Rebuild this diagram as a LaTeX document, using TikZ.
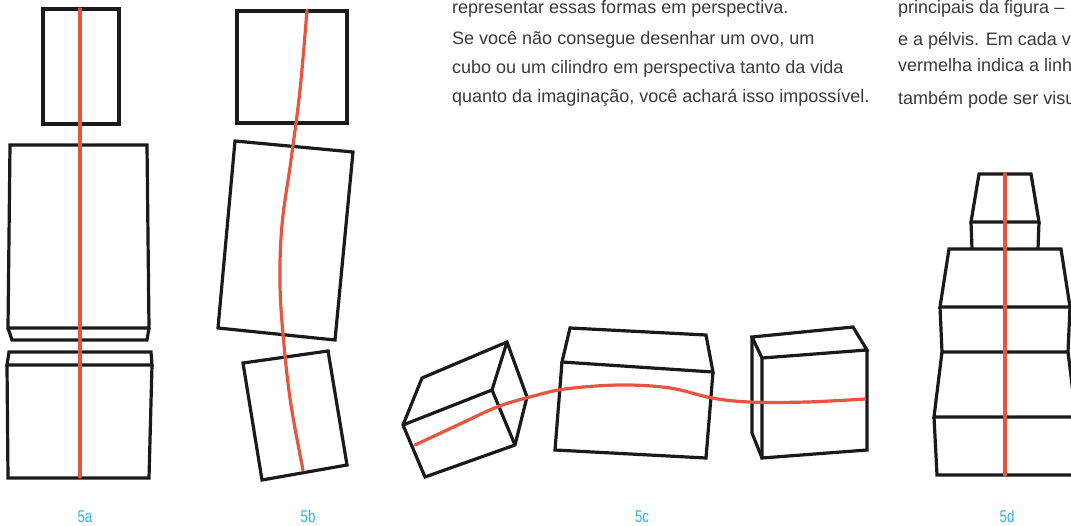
\documentclass[tikz,border=0pt]{standalone}
\usepackage{fontspec}
\setmainfont{Liberation Sans}
\newfontfamily\capfont[FakeStretch=0.78]{Liberation Sans}
\definecolor{inkline}{HTML}{1A1A1A}
\definecolor{axisred}{HTML}{E8553E}
\definecolor{bodytext}{HTML}{3A3A3A}
\definecolor{capblue}{HTML}{2CB2EC}
\begin{document}
\begin{tikzpicture}[x=1pt,y=-1pt,
  block/.style={draw=inkline,line width=3.2pt,line join=miter},
  axis/.style={draw=axisred,line width=3.2pt,line cap=round},
  para/.style={anchor=base west,inner sep=0pt,text=bodytext,font=\fontsize{18}{22}\selectfont},
  caption/.style={anchor=base,inner sep=0pt,text=capblue,font=\capfont\fontsize{17}{19}\selectfont}]
\useasboundingbox (0,0) rectangle (1071,525);
\begin{scope}
\clip (0,0) rectangle (1071,525);

% ---- text columns ----
\node[para] (t1) at (452,13) {representar essas formas em perspectiva.};
\node[para] (t2) at (452,44) {Se você não consegue desenhar um ovo, um};
\node[para] (t3) at (452,73) {cubo ou um cilindro em perspectiva tanto da vida};
\node[para] (t4) at (452,102) {quanto da imaginação, você achará isso impossível.};
\node[para] (u1) at (898,13) {principais da figura –};
\node[para] (u2) at (898,45) {e a pélvis. Em cada v};
\node[para] (u3) at (898,71) {vermelha indica a linh};
\node[para] (u4) at (898,104) {também pode ser visu};

% ---- 5a: upright stack ----
\draw[block] (43,9) rectangle (119,124);
\draw[block] (10,145) -- (147,145) -- (149,328) -- (8,328) -- cycle;
\draw[block] (8,328) -- (12,340) -- (147,340) -- (149,328);
\draw[block] (9,352) -- (151,352) -- (152,365) -- (7,365) -- cycle;
\draw[block] (7,365) -- (8,478) -- (149,478) -- (152,365);
\draw[axis] (80,9) -- (80,477);

% ---- 5b: tilted stack ----
\draw[block] (237,11) rectangle (347,123);
\draw[block] (235,141) -- (353,152) -- (335,340) -- (218,328) -- cycle;
\draw[block] (243,363) -- (328,351) -- (347,465) -- (262,480) -- cycle;
\draw[axis] plot[smooth,tension=0.6] coordinates
  {(307,10) (300,90) (291,160) (282,225) (280,285) (284,345) (291,405) (303,470)};

% ---- 5c: boxes seen from the side ----
\draw[block] (403,425) -- (422,378) -- (507,342) -- (527,397) -- (515,445) -- (425,477) -- cycle;
\draw[block] (403,425) -- (492,390) -- (507,342);
\draw[block] (492,390) -- (515,445);
\draw[block] (562,362) -- (570,328) -- (706,335) -- (713,372) -- cycle;
\draw[block] (562,362) -- (555,450) -- (706,458) -- (713,372);
\draw[block] (762,358) -- (752,337) -- (853,327) -- (867,350) -- cycle;
\draw[block] (762,358) -- (762,458) -- (867,450) -- (867,350);
\draw[block] (752,337) -- (752,433) -- (762,458);
\draw[axis] plot[smooth,tension=0.6] coordinates
  {(415,445) (460,424) (497,407) (530,397) (565,389) (620,385) (670,388) (712,398) (750,402) (807,402) (865,399)};

% ---- 5d: tapering stack ----
\draw[block] (979,174) -- (1031,174) -- (1039,222) -- (971,222) -- cycle;
\draw[block] (971,222) -- (972,249) (1039,222) -- (1038,249);
\draw[block] (949,249) -- (1061,249) -- (1070,307) -- (940,307) -- cycle;
\draw[block] (940,307) -- (942,352) -- (1068,352) -- (1070,307);
\draw[block] (942,352) -- (934,417) -- (1076,417) -- (1068,352);
\draw[block] (934,417) -- (937,475) -- (1073,475) -- (1076,417);
\draw[axis] (1005,174) -- (1005,475);

% ---- captions ----
\node[caption] (c1) at (85,522) {5a};
\node[caption] (c2) at (308,522) {5b};
\node[caption] (c3) at (642,522) {5c};
\node[caption] (c4) at (1007,522) {5d};
\end{scope}
\end{tikzpicture}
\end{document}
